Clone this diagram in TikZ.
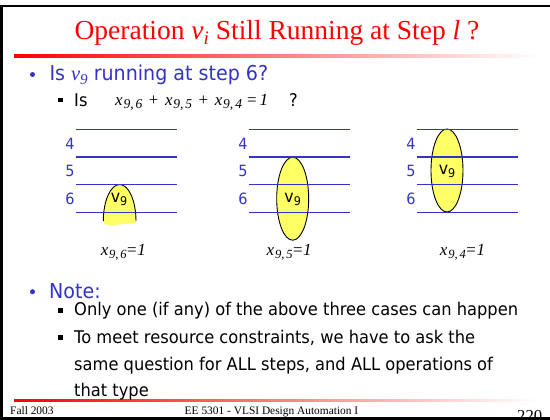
\documentclass[tikz,border=0pt]{standalone}
\usepackage{fontspec}
\setmainfont{Liberation Serif}
\newfontfamily\tahoma[FakeStretch=0.93]{DejaVu Sans}
\usetikzlibrary{shapes.geometric}
\definecolor{slideblue}{RGB}{51,51,204}
\definecolor{ovalyellow}{RGB}{255,255,102}
\newcommand{\xv}[3]{\textit{x}\hspace{0.8pt}\raisebox{-3pt}{\fontsize{#3}{#3}\selectfont\textit{#1},\hspace{2pt}\textit{#2}}}
\newcommand{\vnine}{v\raisebox{-3pt}{\fontsize{12}{12}\selectfont 9}}
\tikzset{
  bodytext/.style={font=\tahoma\fontsize{20.5}{24}\selectfont, text=slideblue, anchor=base west, inner sep=0},
  subtext/.style={font=\tahoma\fontsize{17.5}{21}\selectfont, text=black, anchor=base west, inner sep=0},
  bulletdot/.style={circle, fill=slideblue, minimum size=5pt, inner sep=0},
  sqbullet/.style={rectangle, fill=black, minimum size=4.6pt, inner sep=0},
  steplbl/.style={font=\tahoma\fontsize{15.5}{17}\selectfont, text=slideblue, inner sep=0},
  stepline/.style={draw=slideblue, line width=1.4pt},
  opoval/.style={ellipse, draw=black, line width=0.9pt, fill=ovalyellow, minimum width=32pt, minimum height=83pt, inner sep=0},
  optext/.style={font=\tahoma\fontsize{17}{17}\selectfont, inner sep=0},
  caselbl/.style={font=\fontsize{17}{19}\selectfont, anchor=base, inner sep=0},
  footer/.style={font=\fontsize{11.4}{13}\selectfont, anchor=base west, inner sep=0},
}
\begin{document}
\begin{tikzpicture}[x=1pt,y=-1pt]
\useasboundingbox (0,0) rectangle (550,420);
\fill[white] (0,0) rectangle (550,420);

% title and rules
\node[font=\fontsize{27.5}{30}\selectfont, text=red, anchor=base, inner sep=0] (title) at (277,39.3)
  {Operation \textit{v}\raisebox{-5pt}{\fontsize{19}{19}\selectfont\textit{i}} Still Running at Step \textit{l} ?};
\shade[left color=red, right color=white] (14,55) rectangle (540,57.3);
\shade[left color=red, right color=white] (14,399) rectangle (540,401);

% first bullet
\node[bulletdot] (b1) at (32.5,74.5) {};
\node[bodytext] (t1) at (49.3,80.5) {Is {\rmfamily\itshape v\raisebox{-4pt}{\fontsize{15}{15}\selectfont 9}} running at step 6?};
\node[sqbullet] (s1) at (60.2,100) {};
\node[subtext] (t2) at (74,107) {Is};
\node[font=\fontsize{17}{19}\selectfont, anchor=base west, inner sep=0] (f1) at (115,105.5)
  {\xv{9}{6}{13.5}\hspace{6.5pt}+\hspace{6.5pt}\xv{9}{5}{13.5}\hspace{6.5pt}+\hspace{6.5pt}\xv{9}{4}{13.5}\hspace{5pt}=\hspace{3pt}\textit{1}};
\node[subtext] (q1) at (289,107) {?};

% case 1 : dome
\fill[ovalyellow] (103.3,221) arc[start angle=180, end angle=0, x radius=16.35pt, y radius=36.5pt]
  -- (135.5,223) -- (128,223.5) -- (118,224.5) -- (108,225.5) -- (105,224) -- cycle;
\draw[black, line width=0.9pt] (103.3,221) arc[start angle=180, end angle=0, x radius=16.35pt, y radius=36.5pt];
\node[optext] (o1) at (119,199) {\vnine};

% case 2 and 3 ovals
\node[opoval] (o2) at (292.7,198.7) {};
\node[optext] (o2t) at (292.7,199) {\vnine};
\node[opoval] (o3) at (447,170.5) {};
\node[optext] (o3t) at (447,171.5) {\vnine};

% step lines
\foreach \lx/\rx in {76/177, 249.3/350, 417.3/518.3}
  \foreach \ly in {129.3,157,184.7,212.3}
    \draw[stepline] (\lx,\ly) -- (\rx,\ly);

% step labels
\foreach \cx/\nm in {70/a, 243/b, 411/c}{
  \node[steplbl] (l4\nm) at (\cx,143.5) {4};
  \node[steplbl] (l5\nm) at (\cx,171) {5};
  \node[steplbl] (l6\nm) at (\cx,199) {6};
}

% case labels
\node[caselbl] (c1) at (123.3,255.5) {\xv{9}{6}{12.5}\hspace{0.5pt}=\hspace{0.5pt}\textit{1}};
\node[caselbl] (c2) at (289.2,255.5) {\xv{9}{5}{12.5}\hspace{0.5pt}=\hspace{0.5pt}\textit{1}};
\node[caselbl] (c3) at (462.5,255.5) {\xv{9}{4}{12.5}\hspace{0.5pt}=\hspace{0.5pt}\textit{1}};

% note
\node[bulletdot] (b2) at (32.5,291.7) {};
\node[bodytext] (t3) at (49,298.3) {Note:};
\node[sqbullet] (s2) at (60.2,310.5) {};
\node[subtext] (t4) at (74,316) {Only one (if any) of the above three cases can happen};
\node[sqbullet] (s3) at (60.2,337.2) {};
\node[subtext] (t5) at (74,343.3) {To meet resource constraints, we have to ask the};
\node[subtext] (t6) at (74,370) {same question for ALL steps, and ALL operations of};
\node[subtext] (t7) at (74,396.5) {that type};

% footer
\node[footer] (fl) at (10,414) {Fall 2003};
\node[footer, anchor=base] (fc) at (271.5,414) {EE 5301 - VLSI Design Automation I};
\node[font=\fontsize{16.7}{18}\selectfont, anchor=base west, inner sep=0] (pg) at (517,421.5) {220};

% slide border
\fill[black] (0,4.7) rectangle (550,7.3);
\fill[black] (0,4.7) rectangle (2.7,420);
\fill[black] (0,416.7) rectangle (550,420);
\end{tikzpicture}
\end{document}
